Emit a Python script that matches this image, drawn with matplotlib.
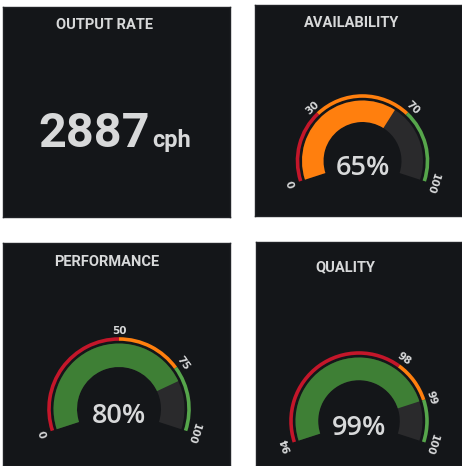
import math
import matplotlib
matplotlib.use("Agg")
import matplotlib.pyplot as plt
from matplotlib.patches import Wedge

# Data
rate_value = "2887"
rate_unit = "cph"
rate_title = "OUTPUT RATE"

gauge_titles = ["AVAILABILITY", "PERFORMANCE", "QUALITY"]
gauge_values = [65, 80, 99]
gauge_mins = [0, 0, 94]
gauge_maxs = [100, 100, 100]
gauge_thresholds = [[30, 70], [50, 75], [98, 99]]
zone_colours = ["#c4162a", "#ff7f0e", "#56a64b"]
value_colours = ["#ff7f0e", "#ff7f0e", "#3e7f35"]  # colour of band per zone

# Layout (pixels in a 462x466 picture)
W, H = 462, 466
BG = "#141619"
TEXT = "#d8d9da"
EMPTY = "#2a2a2c"
START, END = 198.0, -18.0

panels = [(3, 7, 230, 217), (255, 5, 462, 216), (3, 243, 230, 466), (256, 242, 462, 466)]
title_pos = [(104, 25), (352, 23), (107, 262), (345, 267)]
# gauge centre and ring radius per gauge
gauge_geo = [(362.5, 161, 65), (119, 409, 70), (359, 421, 68)]

fig = plt.figure(figsize=(W / 100, H / 100), dpi=100, facecolor="white")


def panel_axes(rect):
    x0, y0, x1, y1 = rect
    ax = fig.add_axes([x0 / W, 1 - y1 / H, (x1 - x0) / W, (y1 - y0) / H])
    ax.set_xlim(0, x1 - x0)
    ax.set_ylim(0, y1 - y0)
    ax.set_facecolor(BG)
    ax.set_xticks([])
    ax.set_yticks([])
    for s in ax.spines.values():
        s.set_color("#202226")
        s.set_linewidth(1)
    return ax


def to_local(rect, x, y):
    return x - rect[0], rect[3] - y


def angle_of(v, lo, hi):
    return START - (v - lo) / (hi - lo) * (START - END)


# Output rate panel
ax = panel_axes(panels[0])
tx, ty = to_local(panels[0], *title_pos[0])
ax.text(tx, ty, rate_title, color=TEXT, fontsize=10.5, fontweight="bold",
        family="Roboto", ha="center", va="center")
bx, by = to_local(panels[0], 38, 147)
ax.text(bx, by, rate_value, color=TEXT, fontsize=35, fontweight="bold",
        family="Roboto", ha="left", va="baseline")
ux, uy = to_local(panels[0], 152, 147)
ax.text(ux, uy, rate_unit, color=TEXT, fontsize=17, fontweight="bold",
        family="Roboto", ha="left", va="baseline")

# Gauges
for i in range(3):
    rect = panels[i + 1]
    ax = panel_axes(rect)
    lo, hi = gauge_mins[i], gauge_maxs[i]
    val = gauge_values[i]
    cx, cy = to_local(rect, gauge_geo[i][0], gauge_geo[i][1])
    R = gauge_geo[i][2]

    tx, ty = to_local(rect, *title_pos[i + 1])
    ax.text(tx, ty, gauge_titles[i], color=TEXT, fontsize=10.5, fontweight="bold",
            family="Roboto", ha="center", va="center")

    # threshold ring
    edges = [lo] + gauge_thresholds[i] + [hi]
    for k in range(len(edges) - 1):
        a1 = angle_of(edges[k], lo, hi)
        a2 = angle_of(edges[k + 1], lo, hi)
        ax.add_patch(Wedge((cx, cy), R + 1.8, a2, a1, width=3.6,
                           facecolor=zone_colours[k], edgecolor="none"))

    # value band
    outer = R - 4.5
    inner = R * 0.6
    a_val = angle_of(val, lo, hi)
    ax.add_patch(Wedge((cx, cy), outer, END, START, width=outer - inner,
                       facecolor=EMPTY, edgecolor="none"))
    zone = sum(val >= t for t in gauge_thresholds[i])
    ax.add_patch(Wedge((cx, cy), outer, a_val, START, width=outer - inner,
                       facecolor=value_colours[zone], edgecolor="none"))

    # tick labels
    for v in edges:
        a = angle_of(v, lo, hi)
        r = R + 8.5
        lx = cx + r * math.cos(math.radians(a))
        ly = cy + r * math.sin(math.radians(a))
        ax.text(lx, ly, str(v), color=TEXT, fontsize=7.5, fontweight="bold",
                rotation=a - 90, rotation_mode="anchor", ha="center", va="center",
                family="DejaVu Sans")

    ax.text(cx, cy - 7, f"{val}%", color=TEXT, fontsize=19.5, fontweight="semibold",
            family="Open Sans", ha="center", va="center")

fig.savefig("out.png", dpi=100, facecolor="white")
